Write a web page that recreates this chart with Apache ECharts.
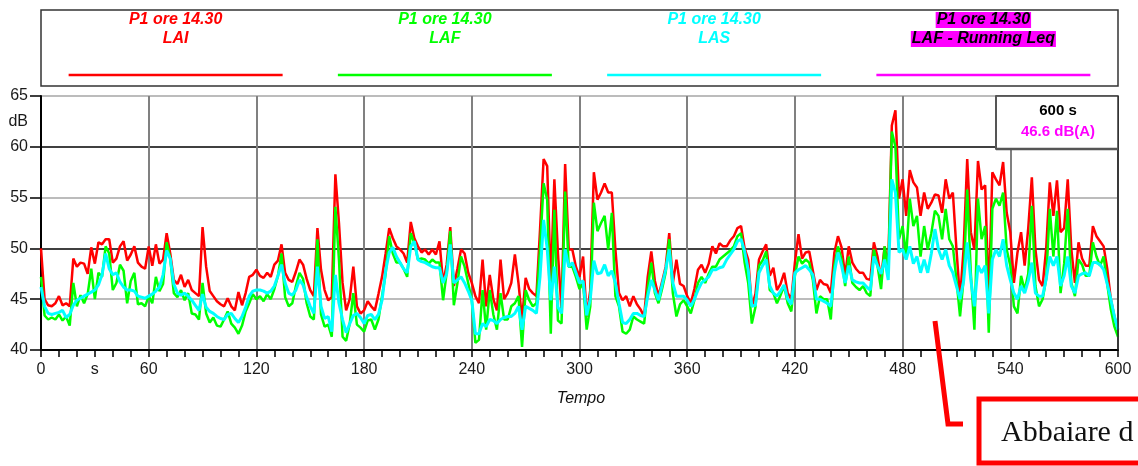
<!DOCTYPE html>
<html>
<head>
<meta charset="utf-8">
<script src="https://cdn.jsdelivr.net/npm/echarts@6/dist/echarts.min.js"></script>
<style>
html,body{margin:0;padding:0;background:#fff;}
#chart{width:1138px;height:466px;}
</style>
</head>
<body>
<div id="chart"></div>
<script>
// ---- DATA (sampled every 2 s, 0..600 s) ----
const STEP_S = 2;
const LAI = [
50.0,45.0,44.4,44.3,44.6,45.3,44.4,44.6,44.3,49.0,
48.2,48.6,48.5,47.5,50.1,48.5,50.6,50.4,50.9,50.9,
48.6,49.0,50.2,50.7,48.8,49.4,50.2,48.6,48.2,48.0,
50.2,48.3,50.4,48.5,48.9,51.5,49.5,46.9,46.5,47.4,
46.2,46.9,45.9,45.6,45.3,52.1,48.2,45.8,45.3,44.8,
44.5,44.3,45.1,44.3,43.9,45.7,44.4,45.6,47.2,47.4,
47.9,47.3,47.1,47.6,47.2,48.4,48.8,50.4,47.6,46.9,
46.7,47.7,48.9,48.4,47.0,45.9,45.3,52.0,47.9,45.9,
44.9,45.2,57.3,52.5,46.6,43.9,45.0,48.2,44.3,43.6,
43.9,44.8,44.3,43.9,45.5,47.2,49.5,52.0,51.0,50.2,
49.9,49.5,48.6,52.6,51.0,50.2,49.6,49.9,49.4,49.9,
49.4,50.7,46.6,48.4,52.1,46.3,48.0,49.9,49.5,47.6,
46.6,45.3,44.6,48.9,44.3,47.4,45.0,43.9,48.9,45.0,
45.6,46.6,49.4,46.6,43.0,47.1,46.0,45.6,45.3,51.8,
58.8,58.1,46.6,56.8,49.5,43.9,58.3,49.9,49.9,48.2,
47.2,49.2,43.3,45.9,57.5,54.8,55.5,56.4,55.5,55.5,
49.9,45.6,44.9,45.3,44.3,45.3,44.5,44.0,43.3,47.2,
49.7,46.8,45.3,46.7,48.2,51.5,46.6,48.9,46.5,46.3,
45.3,44.6,46.0,47.9,48.4,47.6,48.5,50.2,49.5,50.5,
50.2,50.2,50.8,51.2,52.0,52.2,50.0,48.9,44.3,45.5,
48.9,49.7,50.4,47.3,48.1,45.9,46.5,47.6,45.6,45.0,
48.6,51.4,49.0,49.6,49.7,47.8,45.9,46.9,46.5,46.4,
45.6,49.6,51.2,50.1,47.3,50.2,48.6,48.0,47.6,47.6,
47.0,46.9,50.6,49.2,47.0,50.2,48.3,62.1,63.6,54.9,
56.8,53.2,57.7,56.5,56.0,53.2,55.5,53.9,54.5,55.3,
55.2,53.5,56.8,54.9,55.5,49.9,45.0,50.0,58.8,51.6,
49.9,58.6,55.8,56.2,45.0,57.5,56.8,56.2,58.5,53.5,
51.6,46.6,49.6,51.6,48.3,52.0,57.0,49.9,46.9,46.3,
50.0,56.5,53.2,56.7,51.6,52.0,56.8,49.9,46.6,50.6,
49.0,48.3,48.3,52.2,51.2,50.7,50.2,48.0,45.0,43.3,
42.0];
const LAF = [
47.2,43.4,43.0,43.2,43.0,43.5,42.9,43.3,42.4,46.6,
44.3,45.4,44.6,45.5,48.0,45.0,47.6,47.2,50.2,49.5,
45.9,46.6,48.4,47.8,44.6,46.8,47.6,44.5,44.6,44.3,
45.3,44.6,47.2,45.8,46.5,50.6,49.0,45.6,45.2,45.9,
44.9,45.6,43.6,43.5,43.0,46.6,43.6,42.7,43.2,42.4,
42.3,43.0,43.8,42.6,42.2,41.6,42.4,43.8,44.6,45.5,
45.0,45.3,44.8,45.5,45.0,46.0,47.3,49.5,45.2,44.3,
44.6,46.3,47.6,47.0,44.6,43.3,43.0,50.9,43.5,42.3,
42.5,41.3,54.1,48.9,41.3,40.9,42.6,45.6,42.5,42.2,
41.8,42.9,43.0,42.0,43.0,45.3,47.5,51.2,49.5,48.6,
48.6,48.0,47.2,51.5,50.5,48.9,49.0,48.9,48.5,48.9,
48.6,48.6,44.9,47.6,51.7,44.4,46.6,49.2,48.2,46.6,
44.9,40.7,41.0,45.9,42.0,45.9,43.5,42.0,45.6,43.0,
43.0,44.3,44.6,45.3,40.3,45.9,44.9,44.3,44.6,49.9,
56.4,54.8,41.6,53.8,42.9,42.6,55.6,48.2,48.2,47.2,
46.0,46.6,42.0,44.3,54.5,51.7,52.5,53.2,49.9,53.5,
45.3,44.3,41.8,41.6,42.0,43.3,43.0,42.8,42.6,46.0,
48.6,45.6,44.6,46.0,47.6,50.9,45.6,43.3,44.5,44.9,
44.3,43.6,44.9,46.6,47.2,46.6,47.5,48.2,48.2,48.9,
49.2,49.5,49.8,50.2,51.2,51.5,48.6,46.6,42.6,44.2,
48.3,48.8,49.7,45.9,45.6,44.6,45.4,46.3,44.6,43.8,
47.3,49.2,48.5,48.9,48.6,46.9,43.6,45.3,45.0,45.0,
43.0,48.3,50.2,48.9,46.3,49.2,46.6,46.2,45.9,46.3,
45.6,45.3,49.9,48.3,46.0,50.2,47.6,61.5,60.0,50.9,
52.2,49.2,54.9,52.2,53.2,49.2,52.2,49.9,51.5,53.7,
53.2,50.9,53.9,50.9,50.2,46.9,43.3,47.0,55.8,47.6,
42.0,54.9,50.9,52.2,41.7,53.9,54.9,54.2,55.5,49.9,
48.3,44.3,43.6,47.3,45.9,47.5,54.2,46.3,44.3,45.0,
47.0,53.9,49.2,53.7,45.6,48.5,53.9,46.6,45.3,48.9,
48.4,47.3,47.3,50.6,49.2,48.3,49.2,46.5,44.0,42.3,
41.3];
const LAS = [
46.2,44.3,43.6,43.5,43.6,43.7,43.9,43.2,43.5,44.4,
44.9,45.1,45.3,45.5,45.7,45.9,46.4,47.4,49.5,48.0,
47.4,47.6,46.7,46.2,45.9,45.9,45.8,45.3,45.2,45.1,
45.3,45.5,45.8,46.2,47.4,49.8,49.0,46.5,45.6,45.4,
45.6,45.3,44.9,44.4,43.9,45.5,44.2,43.8,43.6,43.3,
43.1,43.0,43.5,43.6,43.1,42.7,43.3,44.2,45.3,45.8,
45.9,45.9,45.8,45.6,45.8,46.3,47.3,48.4,46.6,45.6,
45.4,45.9,46.9,46.4,45.2,44.3,43.6,48.2,44.3,43.1,
43.3,41.8,47.4,44.6,43.0,41.7,42.6,43.4,43.6,43.2,
42.6,43.4,43.5,43.0,43.5,44.9,47.8,49.6,50.1,49.2,
48.6,48.0,47.6,50.2,50.7,48.9,48.7,48.6,48.4,48.2,
48.1,48.1,46.6,47.5,50.4,46.6,46.9,47.2,46.6,45.8,
44.9,41.6,41.6,42.6,42.3,43.0,42.9,42.6,43.0,43.2,
43.3,43.3,43.6,44.3,42.0,44.3,44.1,43.9,43.6,47.2,
52.8,50.0,44.9,48.2,44.2,43.6,49.9,48.2,48.6,47.6,
46.6,46.8,43.4,45.0,48.8,47.5,47.6,48.4,47.3,47.8,
46.6,44.6,42.7,42.6,43.0,43.6,43.6,43.4,43.3,45.3,
46.9,45.9,44.9,46.4,47.9,49.9,46.6,45.3,45.3,45.3,
44.9,44.3,45.0,45.9,46.6,46.9,47.2,47.9,47.9,48.1,
48.2,48.9,49.4,49.9,50.7,50.9,49.7,47.9,44.3,44.4,
47.6,48.3,48.9,46.3,45.6,45.3,45.8,46.4,45.0,44.5,
47.6,47.9,48.1,48.3,47.9,47.4,45.0,45.0,44.8,44.6,
44.3,47.6,49.6,48.3,46.6,48.3,46.9,46.7,46.6,46.6,
46.2,45.9,49.2,48.3,47.5,48.9,46.9,56.8,55.5,49.6,
49.9,48.9,50.2,48.5,49.2,47.6,48.9,47.6,49.5,51.9,
49.9,48.9,49.9,48.3,47.6,46.3,45.0,46.8,50.6,46.9,
44.3,48.3,47.6,48.3,43.6,48.9,49.9,49.2,50.9,48.3,
46.9,45.6,45.0,46.3,45.6,46.8,48.6,45.6,45.3,45.3,
47.0,49.2,48.3,49.2,46.3,47.3,49.2,46.3,45.6,47.3,
47.5,47.6,47.3,48.6,48.6,48.4,47.9,46.5,45.0,43.3,
42.0];

const legendTitles = ['P1 ore 14.30','P1 ore 14.30','P1 ore 14.30','P1 ore 14.30'];
const legendNames  = ['LAI','LAF','LAS','LAF - Running Leq'];
const legendColors = ['#ff0000','#00ff00','#00ffff','#ff00ff'];
const yTickValues = [40,45,50,55,60,65];
const yLabelValues = [40,45,50,55,60,62.5,65];
const xLabelEvery = 60;
const summaryDuration = '600 s';
const summaryLeq = '46.6 dB(A)';
const xTitle = 'Tempo';
const yUnit = 'dB';
const xUnit = 's';
const noteText = 'Abbaiare d';

// ---- CHART ----
const chart = echarts.init(document.getElementById('chart'), null, {renderer:'canvas'});
const toPts = arr => arr.map((v,i)=>[i*STEP_S, v]);

const plotL = 41, plotR = 1118, plotT = 96, plotB = 350;
const cellW = (plotR - plotL) / 4;

const graphics = [];
// legend frame
graphics.push({type:'rect', shape:{x:plotL, y:10, width:plotR-plotL, height:76},
  style:{fill:'#fff', stroke:'#333', lineWidth:1.5}, z:10});
legendNames.forEach((nm,i)=>{
  const cx = plotL + cellW*(i+0.5);
  const magenta = i===3;
  graphics.push({type:'text', x:cx, y:20, z:11, style:{
    text:legendTitles[i], fill: magenta ? '#000' : legendColors[i],
    font:'italic bold 16px "Liberation Sans", Arial, sans-serif',
    textAlign:'center', textVerticalAlign:'middle',
    backgroundColor: magenta ? '#ff00ff' : null, padding: magenta ? [0,1] : 0 }});
  graphics.push({type:'text', x:cx, y:39, z:11, style:{
    text:nm, fill: magenta ? '#000' : legendColors[i],
    font:'italic bold 16px "Liberation Sans", Arial, sans-serif',
    textAlign:'center', textVerticalAlign:'middle',
    backgroundColor: magenta ? '#ff00ff' : null, padding: magenta ? [0,1] : 0 }});
  graphics.push({type:'line', z:11, shape:{x1:cx-107, y1:75, x2:cx+107, y2:75},
    style:{stroke:legendColors[i], lineWidth:2.5}});
});
// right border of plot
graphics.push({type:'line', z:5, shape:{x1:plotR, y1:plotT, x2:plotR, y2:plotB},
  style:{stroke:'#222', lineWidth:1.5}});
// summary box
graphics.push({type:'rect', z:20, shape:{x:996, y:plotT, width:plotR-996, height:53},
  style:{fill:'#fff', stroke:'#333', lineWidth:1.5}});
graphics.push({type:'line', z:21, shape:{x1:996, y1:149, x2:plotR, y2:149}, style:{stroke:'#555', lineWidth:2.5}});
graphics.push({type:'line', z:21, shape:{x1:996, y1:plotT, x2:996, y2:149}, style:{stroke:'#555', lineWidth:2}});
graphics.push({type:'text', z:22, x:1058, y:111, style:{text:summaryDuration, fill:'#000',
  font:'bold 15px "Liberation Sans", Arial, sans-serif', textAlign:'center', textVerticalAlign:'middle'}});
graphics.push({type:'text', z:22, x:1058, y:132, style:{text:summaryLeq, fill:'#ff00ff',
  font:'bold 15px "Liberation Sans", Arial, sans-serif', textAlign:'center', textVerticalAlign:'middle'}});
// axis title
graphics.push({type:'text', z:5, x:581, y:399, style:{text:xTitle, fill:'#111',
  font:'italic 16px "Liberation Sans", Arial, sans-serif', textAlign:'center', textVerticalAlign:'middle'}});
// annotation
graphics.push({type:'polyline', z:30, shape:{points:[[935,321],[948,424],[963,424]]},
  style:{stroke:'#ff0000', lineWidth:5, fill:null, lineJoin:'miter'}});
graphics.push({type:'rect', z:30, shape:{x:979, y:399, width:220, height:64},
  style:{fill:'#fff', stroke:'#ff0000', lineWidth:5}});
graphics.push({type:'text', z:31, x:1001, y:433, style:{text:noteText, fill:'#111',
  font:'30px "Liberation Serif", "Times New Roman", serif', textAlign:'left', textVerticalAlign:'middle'}});

const axisFont = {fontFamily:'"Liberation Sans", Arial, sans-serif', fontSize:16, color:'#1a1a1a'};

chart.setOption({
  animation:false,
  backgroundColor:'#fff',
  grid:{left:plotL, right:1138-plotR, top:plotT, bottom:466-plotB, containLabel:false},
  xAxis:[{
    type:'value', min:0, max:600, interval:10,
    axisLine:{show:true, onZero:false, lineStyle:{color:'#000', width:2}},
    axisTick:{show:true, length:7, lineStyle:{color:'#000', width:1.5}},
    axisLabel:Object.assign({margin:12, showMinLabel:true, showMaxLabel:true,
      formatter:v => (v % xLabelEvery === 0) ? String(v) : (v === xLabelEvery/2 ? xUnit : '')}, axisFont),
    splitLine:{show:false}
  },{
    type:'value', min:0, max:600, interval:xLabelEvery, position:'bottom',
    axisLine:{show:false}, axisTick:{show:false}, axisLabel:{show:false},
    splitLine:{show:true, lineStyle:{color:'#808080', width:2}}
  }],
  yAxis:{
    type:'value', min:40, max:65, interval:2.5,
    axisLine:{show:true, onZero:false, lineStyle:{color:'#000', width:2}},
    axisTick:{show:true, length:11, customValues:yTickValues, lineStyle:{color:'#000', width:1.5}},
    axisLabel:Object.assign({margin:13, customValues:yLabelValues,
      formatter:v => (v === 62.5 ? yUnit : (v % 5 === 0 ? String(v) : ''))}, axisFont),
    splitLine:{show:true, lineStyle:{color:['#000000','#a6a6a6'], width:1.5}}
  },
  series:[
    {name:'LAI', type:'line', data:toPts(LAI), showSymbol:false, symbol:'none',
      lineStyle:{color:'#ff0000', width:2.5}, z:2},
    {name:'LAF', type:'line', data:toPts(LAF), showSymbol:false, symbol:'none',
      lineStyle:{color:'#00ff00', width:2.5}, z:3},
    {name:'LAS', type:'line', data:toPts(LAS), showSymbol:false, symbol:'none',
      lineStyle:{color:'#00ffff', width:3}, z:4}
  ],
  graphic:graphics
});
</script>
</body>
</html>
